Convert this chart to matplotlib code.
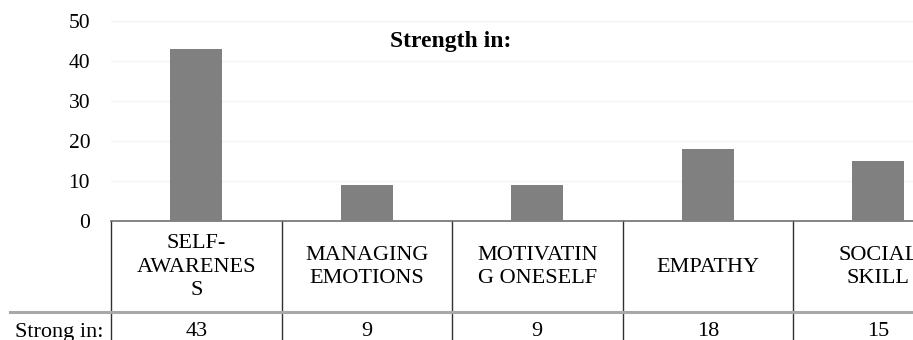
import matplotlib.pyplot as plt
from matplotlib.transforms import blended_transform_factory

# Dane
categories = ['SELF-\nAWARENES\nS', 'MANAGING\nEMOTIONS', 'MOTIVATIN\nG ONESELF',
              'EMPATHY', 'SOCIAL\nSKILL']
values = [43, 9, 9, 18, 15]
row_label = 'Strong in:'
title = 'Strength in:'

plt.rcParams['font.family'] = ['Liberation Serif', 'DejaVu Serif']

W, H = 913, 340
fig = plt.figure(figsize=(W / 100, H / 100), dpi=100)

# os wykresu wychodzi poza prawą krawędź (obraz przycięty)
cell = 170.5
left, top, bottom = 111, 21, 221
ax = fig.add_axes([left / W, 1 - bottom / H, 5 * cell / W, (bottom - top) / H])

x = range(len(values))
ax.bar(x, values, width=0.305, color='#808080', zorder=3)
ax.set_xlim(-0.5, 4.5)
ax.set_ylim(0, 50)
ax.set_yticks(range(0, 51, 10))
ax.set_xticks([])
ax.tick_params(axis='y', length=0, pad=15, labelsize=15.5)
ax.grid(axis='y', color='#f3f3f3', linewidth=1, zorder=0)
for s in ['top', 'right', 'left']:
    ax.spines[s].set_visible(False)
ax.spines['bottom'].set_color('#707070')
ax.spines['bottom'].set_linewidth(1.2)

ax.text(451 / W, 1 - 41 / H, title, transform=fig.transFigure,
        ha='center', va='center', fontsize=17, fontweight='bold')


def fy(py):
    return 1 - py / H


# Tabela danych pod wykresem
tr = blended_transform_factory(ax.transData, fig.transFigure)
for i in range(len(values) + 1):
    ax.plot([i - 0.5, i - 0.5], [fy(221), fy(341)], color='#303030',
            linewidth=1, transform=tr, clip_on=False)
fig.add_artist(plt.Line2D([10 / W, 1], [fy(311.5), fy(311.5)], color='#a8a8a8',
                          linewidth=2.2))
for i, (c, v) in enumerate(zip(categories, values)):
    ax.text(i, fy(267), c, transform=tr, ha='center', va='center',
            fontsize=16, linespacing=1.3, clip_on=False)
    ax.text(i, fy(332), str(v), transform=tr, ha='center', va='center',
            fontsize=16, clip_on=False)
fig.text(103 / W, fy(332), row_label, ha='right', va='center', fontsize=16)

fig.savefig('out.png', dpi=100)
